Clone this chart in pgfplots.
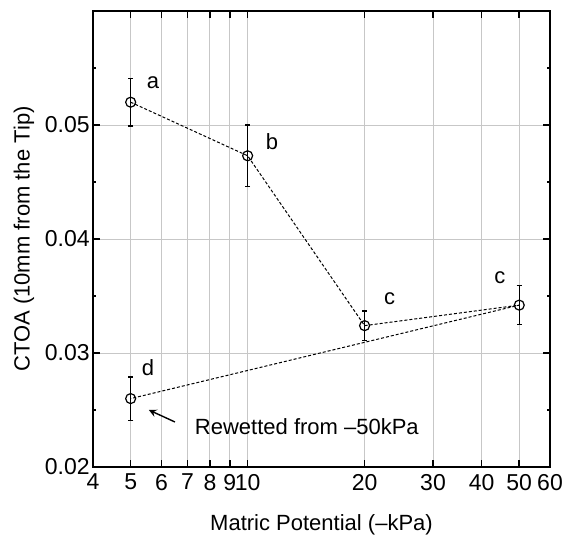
\documentclass[border=0pt]{standalone}
\usepackage{fontspec}
\setmainfont{Liberation Sans}
\usepackage{pgfplots}
\pgfplotsset{compat=1.18}
\begin{document}
\begin{tikzpicture}
\useasboundingbox (-46.5pt,-34pt) rectangle (239pt,233.5pt);
\begin{axis}[
  at={(0,0)}, anchor=south west,
  scale only axis, width=228.5pt, height=228pt,
  xmode=log, xmin=4, xmax=60, ymin=0.02, ymax=0.06,
  xtick={4,5,6,7,8,9,10,20,30,40,50,60},
  xticklabels={4,5,6,7,8,9,10,20,30,40,50,60},
  minor xtick={},
  ytick={0.02,0.03,0.04,0.05},
  yticklabels={0.02,0.03,0.04,0.05},
  minor ytick={0.025,0.035,0.045,0.055},
  tick align=inside, tick pos=both,
  major tick length=3.5pt, minor tick length=1.5pt,
  xmajorgrids, ymajorgrids,
  major grid style={black!22, line width=0.5pt},
  axis line style={line width=0.8pt},
  tick style={black, line width=0.8pt},
  /pgf/number format/assume math mode=true,
  tick label style={font=\fontsize{11.5}{13}\selectfont},
  yticklabel style={inner sep=1.5pt},
  label style={font=\fontsize{11}{13}\selectfont},
  xlabel={Matric Potential (–kPa)},
  ylabel={CTOA (10mm from the Tip)},
  xlabel style={at={(axis description cs:0.5,-0.127)}, anchor=center},
  ylabel style={at={(axis description cs:-0.151,0.5)}, anchor=center},
]
\addplot[black, line width=0.5pt, dash pattern=on 1.5pt off 1pt,
  mark=o, mark size=2.5pt, mark options={solid, line width=0.6pt},
  error bars/.cd, y dir=both, y explicit,
  error bar style={solid, line width=0.7pt},
  error mark options={rotate=90, mark size=1.3pt, line width=0.7pt}]
coordinates {
  (5,0.0520)  +- (0,0.0021)
  (10,0.0473) +- (0,0.0027)
  (20,0.0324) +- (0,0.0013)
  (50,0.0342) +- (0,0.0017)
  (5,0.0260)  +- (0,0.0019)
};
\begin{scope}[font=\fontsize{11}{13}\selectfont]
\node at (axis cs:5.71,0.0537) {a};
\node at (axis cs:11.55,0.0485) {b};
\node at (axis cs:23.2,0.0348) {c};
\node at (axis cs:44.6,0.0366) {c};
\node at (axis cs:5.54,0.0287) {d};
\node[anchor=west] at (axis cs:7.02,0.0235) {Rewetted from –50kPa};
\end{scope}
\draw[-stealth, line width=0.7pt] (axis cs:6.5,0.02395) -- (axis cs:5.57,0.0250);
\end{axis}
\end{tikzpicture}
\end{document}
